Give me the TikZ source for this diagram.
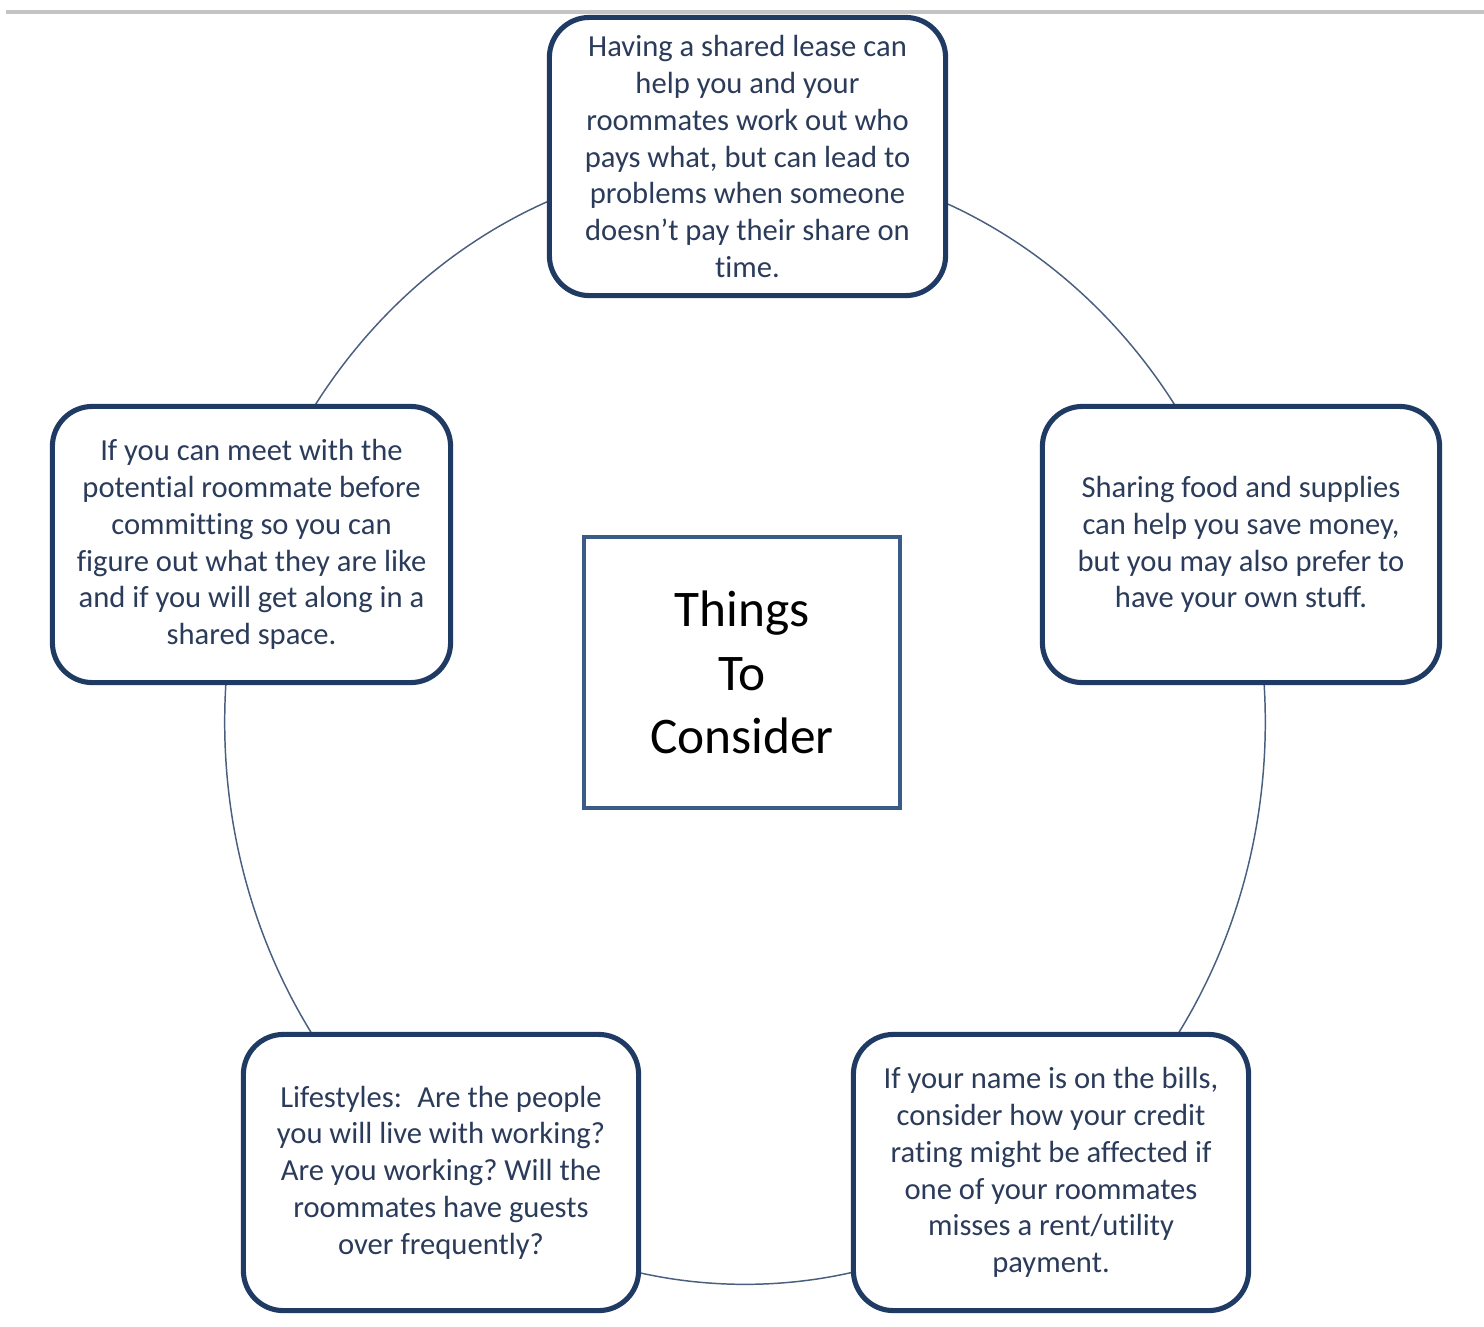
\documentclass[tikz,border=0pt]{standalone}
\usepackage{fontspec}
\setmainfont{Carlito}[Ligatures=NoCommon]
\usetikzlibrary{shapes.geometric}
\definecolor{boxline}{HTML}{1F3A63}
\definecolor{boxtext}{HTML}{2B3B5A}
\definecolor{centerline}{HTML}{3A5A87}
\definecolor{ringline}{HTML}{4A5F80}
\definecolor{topline}{HTML}{C4C4C4}
\frenchspacing
\tikzset{
  roundbox/.style={draw=boxline, line width=1.45pt, fill=white, rounded corners=0.4cm,
    align=center, text=boxtext, inner sep=0pt,
    font=\fontsize{8.7}{10.45}\selectfont},
  centerbox/.style={draw=centerline, line width=1.3pt, fill=white, align=center,
    text=black, inner sep=0pt, font=\fontsize{14.6}{18.1}\selectfont},
  ring/.style={draw=ringline, line width=0.42pt}
}
\begin{document}
\begin{tikzpicture}[x=0.01cm,y=-0.01cm]
\useasboundingbox (0,0) rectangle (1484,1326);
\draw[topline, line width=0.9pt] (6,12) -- (1484,12);
\coordinate (c) at (745,722);
\draw[ring] (c) ellipse [x radius=5.2cm, y radius=5.62cm];
\node[roundbox, minimum width=3.96cm, minimum height=2.78cm] (lease) at (747.5,156.5)
  {Having a shared lease can\\help you and your\\roommates work out who\\pays what, but can lead to\\problems when someone\\doesn’t pay their share on\\time.};
\node[roundbox, minimum width=3.97cm, minimum height=2.76cm] (food) at (1241,544.5)
  {Sharing food and supplies\\can help you save money,\\but you may also prefer to\\have your own stuff.};
\node[roundbox, minimum width=3.95cm, minimum height=2.76cm] (bills) at (1051,1172.5)
  {If your name is on the bills,\\consider how your credit\\rating might be affected if\\one of your roommates\\misses a rent/utility\\payment.};
\node[roundbox, minimum width=3.95cm, minimum height=2.76cm] (life) at (441,1172.5)
  {Lifestyles:\hspace{0.5em}Are the people\\you will live with working?\\Are you working? Will the\\roommates have guests\\over frequently?};
\node[roundbox, minimum width=3.98cm, minimum height=2.76cm] (meet) at (251.5,544.5)
  {If you can meet with the\\potential roommate before\\committing so you can\\figure out what they are like\\and if you will get along in a\\shared space.};
\node[centerbox, minimum width=3.16cm, minimum height=2.71cm] (title) at (742,672.5)
  {Things\\To\\Consider};
\end{tikzpicture}
\end{document}
